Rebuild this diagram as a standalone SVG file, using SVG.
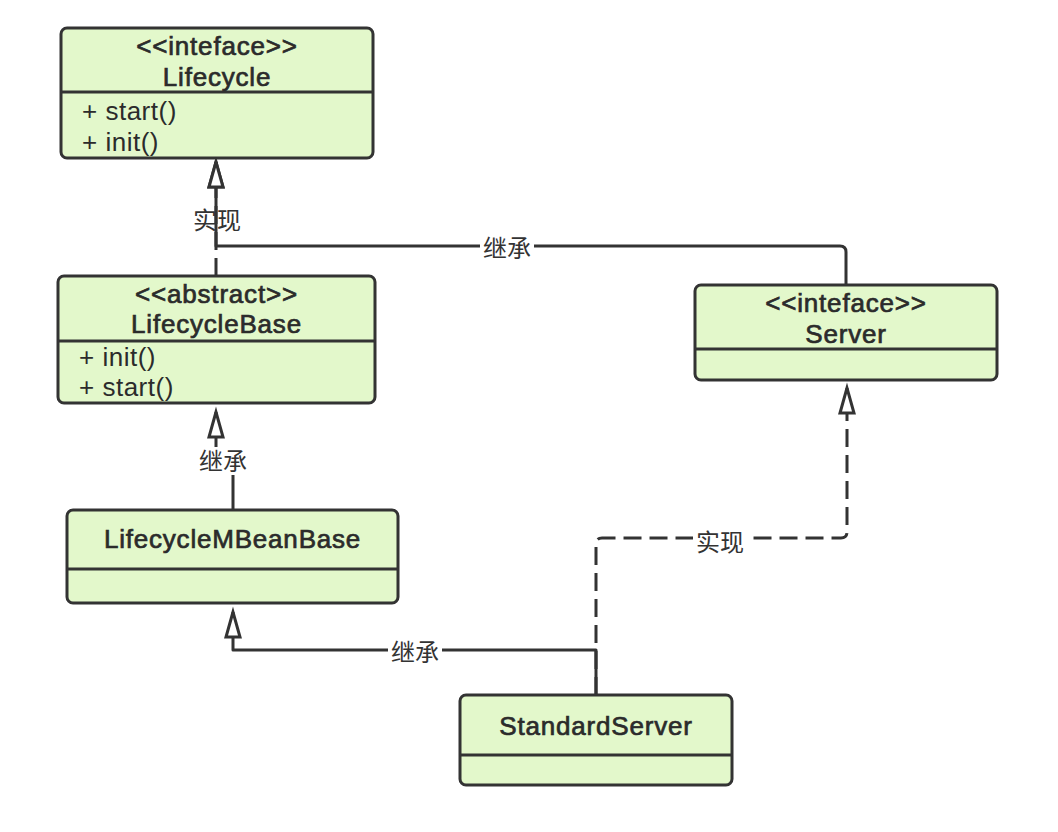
<svg xmlns="http://www.w3.org/2000/svg" width="1058" height="832" viewBox="0 0 1058 832">
<style>
.box{fill:#e3f8cb;stroke:#333;stroke-width:3}
.div{stroke:#333;stroke-width:3}
.t{font-family:"Liberation Sans",Arial,sans-serif;font-size:26px;fill:#2b2b2b;stroke:#2b2b2b;stroke-width:0.7px;letter-spacing:0.8px;text-anchor:middle}
.m{font-family:"Liberation Sans",Arial,sans-serif;font-size:26px;fill:#2b2b2b;letter-spacing:0.5px}
.c{fill:none;stroke:#333;stroke-width:3;stroke-linejoin:round}
.d{stroke-dasharray:18 8}
.lb{fill:#fff}
.l{font-family:"Liberation Sans","Noto Sans CJK SC",sans-serif;font-size:24px;fill:#333;text-anchor:middle}
</style>
<defs>
<marker id="tri" markerUnits="userSpaceOnUse" markerWidth="32" markerHeight="22" viewBox="-28 -11 32 22" refX="0" refY="0" orient="auto" overflow="visible">
<path d="M0,0 L-25,-7 L-25,7 Z" fill="#fff" stroke="#333" stroke-width="3" stroke-linejoin="miter"/>
</marker>
</defs>
<rect width="1058" height="832" fill="#fff"/>
<g id="connectors">
<path class="c d" d="M216,276 V162" marker-end="url(#tri)"/>
<text class="l" x="217" y="229">实现</text>
<path class="c" d="M846,284 V252 Q846,246 840,246 H216 V162" marker-end="url(#tri)"/>
<rect class="lb" x="480" y="234" width="54" height="26"/>
<text class="l" x="507" y="257">继承</text>
<path class="c" d="M233,510 V461 H216 V412" marker-end="url(#tri)"/>
<rect class="lb" x="197" y="447" width="54" height="28"/>
<text class="l" x="223" y="470">继承</text>
<path class="c" d="M596,695 V650 H233 V612" marker-end="url(#tri)"/>
<rect class="lb" x="388" y="638" width="54" height="26"/>
<text class="l" x="415" y="661">继承</text>
<path class="c d" d="M596,695 V544 Q596,538 602,538 H841 Q847,538 847,532 V388" marker-end="url(#tri)"/>
<rect class="lb" x="693" y="528" width="54" height="26"/>
<text class="l" x="720" y="551">实现</text>
</g>
<g id="lifecycle">
<rect class="box" x="61" y="28" width="312" height="130" rx="6"/>
<line class="div" x1="61" y1="92" x2="373" y2="92"/>
<text class="t" x="217" y="55">&lt;&lt;inteface&gt;&gt;</text>
<text class="t" x="217" y="86">Lifecycle</text>
<text class="m" x="82" y="120">+ start()</text>
<text class="m" x="82" y="151">+ init()</text>
</g>
<g id="lifecyclebase">
<rect class="box" x="58" y="276" width="317" height="127" rx="6"/>
<line class="div" x1="58" y1="341" x2="375" y2="341"/>
<text class="t" x="216.5" y="303">&lt;&lt;abstract&gt;&gt;</text>
<text class="t" x="216.5" y="333">LifecycleBase</text>
<text class="m" x="79" y="366">+ init()</text>
<text class="m" x="79" y="396">+ start()</text>
</g>
<g id="server">
<rect class="box" x="695" y="285" width="302" height="95" rx="6"/>
<line class="div" x1="695" y1="349" x2="997" y2="349"/>
<text class="t" x="846" y="312">&lt;&lt;inteface&gt;&gt;</text>
<text class="t" x="846" y="343">Server</text>
</g>
<g id="lifecyclembeanbase">
<rect class="box" x="67" y="510" width="331" height="93" rx="6"/>
<line class="div" x1="67" y1="569" x2="398" y2="569"/>
<text class="t" x="232.5" y="548">LifecycleMBeanBase</text>
</g>
<g id="standardserver">
<rect class="box" x="460" y="695" width="272" height="90" rx="6"/>
<line class="div" x1="460" y1="755" x2="732" y2="755"/>
<text class="t" x="596" y="735">StandardServer</text>
</g>
</svg>
